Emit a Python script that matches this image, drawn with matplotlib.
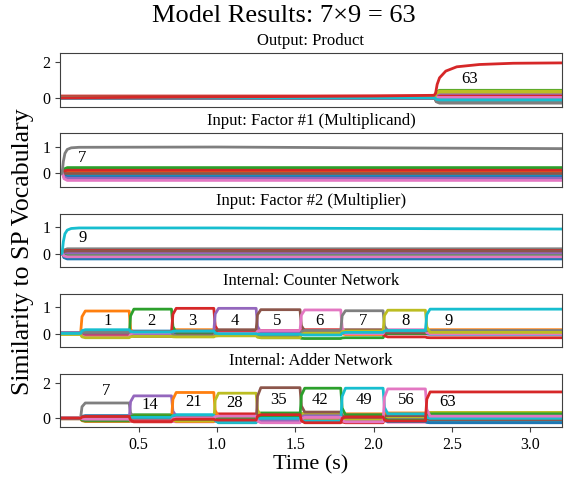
import matplotlib
matplotlib.use("Agg")
import matplotlib.pyplot as plt

plt.rcParams['font.family'] = ['Liberation Serif', 'DejaVu Serif']

# ---- datos ----
T_END = 3.2

# Output: Product (antes / despues de t = 2.39)
PROD_BOUNDS = [2.39]
PROD_VALUES = list(range(20))
PROD_LEVELS = [
    [0.00, -0.18], [0.02, 0.05], [-0.02, 0.42], [0.10, 0.22], [0.00, 0.30],
    [0.03, -0.05], [-0.03, 0.12], [0.01, -0.30], [0.04, 0.38], [-0.01, 0.00],
    [0.02, -0.10], [-0.02, 0.18], [0.05, 0.08], [0.06, 0.12], [-0.04, 0.25],
    [0.00, -0.22], [0.03, 0.02], [-0.02, -0.25], [0.02, 0.32], [0.00, -0.12],
]
PROD_63_T = [0.0, 1.0, 2.0, 2.385, 2.395, 2.405, 2.42, 2.46, 2.53, 2.675, 2.89, 3.2]
PROD_63_V = [0.0, 0.05, 0.10, 0.14, 0.25, 0.75, 1.12, 1.50, 1.74, 1.87, 1.94, 1.96]

# Input: Factor #1 / #2
FACT_BOUNDS = [0.015]
FACT1_VALUES = [0, 1, 2, 3, 4, 5, 6, 8, 9, 10, 11, 12, 13, 14, 15, 16]
FACT1_POST = [0.02, 0.18, -0.16, 0.15, -0.08, 0.10, -0.02, 0.08, -0.05,
              -0.12, 0.05, 0.22, 0.12, -0.18, 0.00, -0.26]
FACT2_VALUES = [0, 1, 2, 3, 4, 5, 6, 7, 8, 10, 11, 12, 13, 14, 15, 16]
FACT2_POST = [-0.15, 0.05, -0.05, -0.10, -0.18, 0.02, 0.00, 0.18, 0.08,
              -0.20, 0.12, -0.08, 0.12, 0.03, 0.10, -0.12]
FACT_ACTIVE_T = [0.0, 0.012, 0.02, 0.03, 0.045, 0.07, 0.12, 1.0, 2.0, 3.2]
FACT1_ACTIVE_V = [0.0, 0.0, 0.45, 0.75, 0.90, 0.96, 0.98, 0.99, 0.96, 0.93]
FACT2_ACTIVE_V = [0.0, 0.0, 0.45, 0.74, 0.88, 0.94, 0.96, 0.96, 0.94, 0.92]

# Counter / Adder: cambios de estado
STEP_BOUNDS = [0.13, 0.44, 0.71, 0.98, 1.25, 1.53, 1.79, 2.06, 2.33]

COUNT_VALUES = list(range(10))
COUNT_LEVELS = [
    [0.03, 0.12, 0.10, 0.02, -0.05, -0.08, 0.00, 0.05, 0.02, -0.02],
    [0.00, 0.85, -0.05, 0.15, 0.10, 0.05, 0.08, -0.03, 0.05, 0.15],
    [0.02, -0.08, 0.92, 0.05, 0.10, -0.15, -0.18, -0.15, 0.00, 0.05],
    [0.00, -0.03, 0.05, 0.95, 0.08, 0.12, 0.15, 0.05, -0.12, -0.15],
    [0.04, 0.02, -0.05, 0.10, 0.95, 0.05, 0.10, 0.02, 0.08, 0.05],
    [0.00, 0.05, -0.10, -0.05, 0.15, 0.90, 0.10, 0.15, 0.03, 0.08],
    [-0.02, -0.12, 0.03, -0.10, 0.02, 0.12, 0.89, 0.00, 0.15, 0.00],
    [0.02, 0.05, 0.08, -0.08, -0.03, -0.05, 0.12, 0.86, 0.10, 0.12],
    [-0.03, -0.15, -0.10, -0.12, -0.08, -0.15, 0.02, 0.10, 0.88, 0.05],
    [0.01, 0.15, 0.06, 0.10, 0.00, -0.02, -0.05, 0.05, 0.12, 0.92],
]
COUNT_LABELS = ["1", "2", "3", "4", "5", "6", "7", "8", "9"]
COUNT_LABEL_T = [0.306, 0.584, 0.843, 1.115, 1.387, 1.656, 1.932, 2.204, 2.478]
COUNT_LABEL_Y = [0.49] * 9

ADD_VALUES = [0, 1, 2, 3, 4, 5, 6, 8, 9, 10, 11, 12, 13,
              7, 14, 21, 28, 35, 42, 49, 56, 63]
ADD_LEVELS = [
    [0.00, -0.02, 0.10, -0.10, 0.05, 0.12, 0.02, -0.15, 0.22, -0.18],
    [0.02, 0.12, 0.08, 0.05, 0.20, -0.15, -0.18, 0.25, 0.30, 0.15],
    [-0.02, -0.15, 0.20, -0.08, 0.10, -0.05, 0.10, 0.15, 0.12, 0.28],
    [0.05, 0.02, -0.20, -0.12, -0.15, 0.25, -0.10, -0.25, 0.05, 0.00],
    [0.00, 0.05, 0.02, 0.00, -0.05, 0.08, 0.28, 0.05, -0.05, 0.18],
    [-0.03, -0.08, 0.00, 0.12, 0.08, -0.10, 0.15, -0.12, 0.10, -0.05],
    [0.02, 0.10, -0.12, -0.20, 0.15, -0.22, -0.05, 0.18, -0.22, 0.08],
    [-0.01, -0.18, 0.12, 0.15, 0.00, 0.02, -0.12, 0.00, -0.08, 0.33],
    [0.03, 0.08, -0.08, 0.20, -0.25, 0.10, 0.00, -0.05, 0.15, -0.12],
    [0.00, 0.15, -0.05, 0.08, 0.02, -0.18, 0.20, 0.08, -0.18, -0.25],
    [-0.02, -0.05, 0.15, -0.18, 0.12, 0.18, 0.05, -0.18, 0.02, 0.10],
    [0.01, 0.00, -0.02, 0.10, -0.12, 0.30, -0.20, 0.10, 0.18, 0.20],
    [0.04, -0.15, -0.15, 0.02, 0.25, -0.08, 0.12, -0.08, -0.12, 0.05],
    [0.01, 0.86, 0.10, 0.05, -0.05, 0.02, 0.08, -0.10, 0.05, 0.10],
    [0.00, -0.05, 1.26, 0.12, 0.05, -0.12, 0.15, 0.10, -0.05, 0.02],
    [-0.02, 0.05, -0.10, 1.45, 0.10, 0.05, -0.08, 0.12, 0.20, 0.05],
    [0.02, -0.10, 0.08, -0.15, 1.41, 0.15, 0.30, -0.05, 0.08, 0.30],
    [0.00, 0.08, -0.05, 0.10, -0.20, 1.72, 0.35, 0.05, 0.15, -0.08],
    [0.01, -0.12, 0.15, -0.05, 0.05, 0.10, 1.69, 0.20, -0.10, 0.25],
    [-0.01, 0.02, 0.05, 0.18, -0.22, 0.00, -0.15, 1.69, 0.25, 0.00],
    [0.03, -0.05, -0.15, 0.02, 0.12, -0.25, 0.05, -0.20, 1.65, 0.12],
    [0.00, 0.10, -0.18, -0.05, -0.10, 0.20, -0.25, 0.08, -0.15, 1.48],
]
ADD_LABELS = ["7", "14", "21", "28", "35", "42", "49", "56", "63"]
ADD_LABEL_T = [0.29, 0.57, 0.85, 1.11, 1.39, 1.66, 1.94, 2.21, 2.47]
ADD_LABEL_Y = [1.55, 0.77, 0.90, 0.86, 1.00, 1.00, 1.00, 1.00, 0.90]

colors = plt.rcParams['axes.prop_cycle'].by_key()['color']


# escalon con esquinas suavizadas
def step_line(bounds, levels, ramp=0.03):
    t = [0.0]
    v = [levels[0]]
    for b, lo, hi in zip(bounds, levels[:-1], levels[1:]):
        t += [b, b + ramp * 0.3, b + ramp]
        v += [lo, lo + 0.75 * (hi - lo), hi]
    t.append(T_END)
    v.append(levels[-1])
    return t, v


def draw(ax, bounds, values, levels, lw=2.0):
    for val, lev in zip(values, levels):
        t, v = step_line(bounds, lev)
        ax.plot(t, v, color=colors[val % 10], lw=lw, solid_joinstyle='round')


fig, axes = plt.subplots(5, 1, sharex=True, figsize=(5.68, 4.8), dpi=100)
fig.subplots_adjust(left=0.106, right=0.989, top=0.889, bottom=0.110, hspace=0.5)

# Output
ax = axes[0]
draw(ax, PROD_BOUNDS, PROD_VALUES, PROD_LEVELS)
ax.plot(PROD_63_T, PROD_63_V, color=colors[3], lw=2.0)
ax.text(2.61, 1.07, "63", ha='center', va='center', fontsize=12)
ax.set_title("Output: Product", fontsize=12)
ax.set_ylim(-0.5, 2.5)
ax.set_yticks([0, 2])

# Factor 1
ax = axes[1]
draw(ax, FACT_BOUNDS, FACT1_VALUES, [[0.0, p] for p in FACT1_POST])
ax.plot(FACT_ACTIVE_T, FACT1_ACTIVE_V, color=colors[7], lw=2.0)
ax.text(0.14, 0.59, "7", ha='center', va='center', fontsize=12)
ax.set_title("Input: Factor #1 (Multiplicand)", fontsize=12)
ax.set_ylim(-0.5, 1.5)
ax.set_yticks([0, 1])

# Factor 2
ax = axes[2]
draw(ax, FACT_BOUNDS, FACT2_VALUES, [[0.0, p] for p in FACT2_POST])
ax.plot(FACT_ACTIVE_T, FACT2_ACTIVE_V, color=colors[9], lw=2.0)
ax.text(0.14, 0.58, "9", ha='center', va='center', fontsize=12)
ax.set_title("Input: Factor #2 (Multiplier)", fontsize=12)
ax.set_ylim(-0.5, 1.5)
ax.set_yticks([0, 1])

# Counter
ax = axes[3]
draw(ax, STEP_BOUNDS, COUNT_VALUES, COUNT_LEVELS)
for s, x, y in zip(COUNT_LABELS, COUNT_LABEL_T, COUNT_LABEL_Y):
    ax.text(x, y, s, ha='center', va='center', fontsize=12)
ax.set_title("Internal: Counter Network", fontsize=12)
ax.set_ylim(-0.5, 1.5)
ax.set_yticks([0, 1])

# Adder
ax = axes[4]
draw(ax, STEP_BOUNDS, ADD_VALUES, ADD_LEVELS)
for s, x, y in zip(ADD_LABELS, ADD_LABEL_T, ADD_LABEL_Y):
    ax.text(x, y, s, ha='center', va='center', fontsize=12)
ax.set_title("Internal: Adder Network", fontsize=12)
ax.set_ylim(-0.5, 2.5)
ax.set_yticks([0, 2])

for i, ax in enumerate(axes):
    ax.set_xlim(0, T_END)
    for sp in ax.spines.values():
        sp.set_color('0.25')
    ax.tick_params(labelsize=11.5, color='0.25')
    if i < 4:
        ax.tick_params(axis='x', bottom=False)
axes[4].set_xticks([0.5, 1.0, 1.5, 2.0, 2.5, 3.0])
axes[4].set_xlabel("Time (s)", fontsize=16, labelpad=2)

fig.suptitle("Model Results: 7×9 = 63", fontsize=19, y=0.99)
fig.text(0.040, 0.475, "Similarity to SP Vocabulary", rotation=90,
         ha='center', va='center', fontsize=18.5)

fig.savefig("out.png", dpi=100)
